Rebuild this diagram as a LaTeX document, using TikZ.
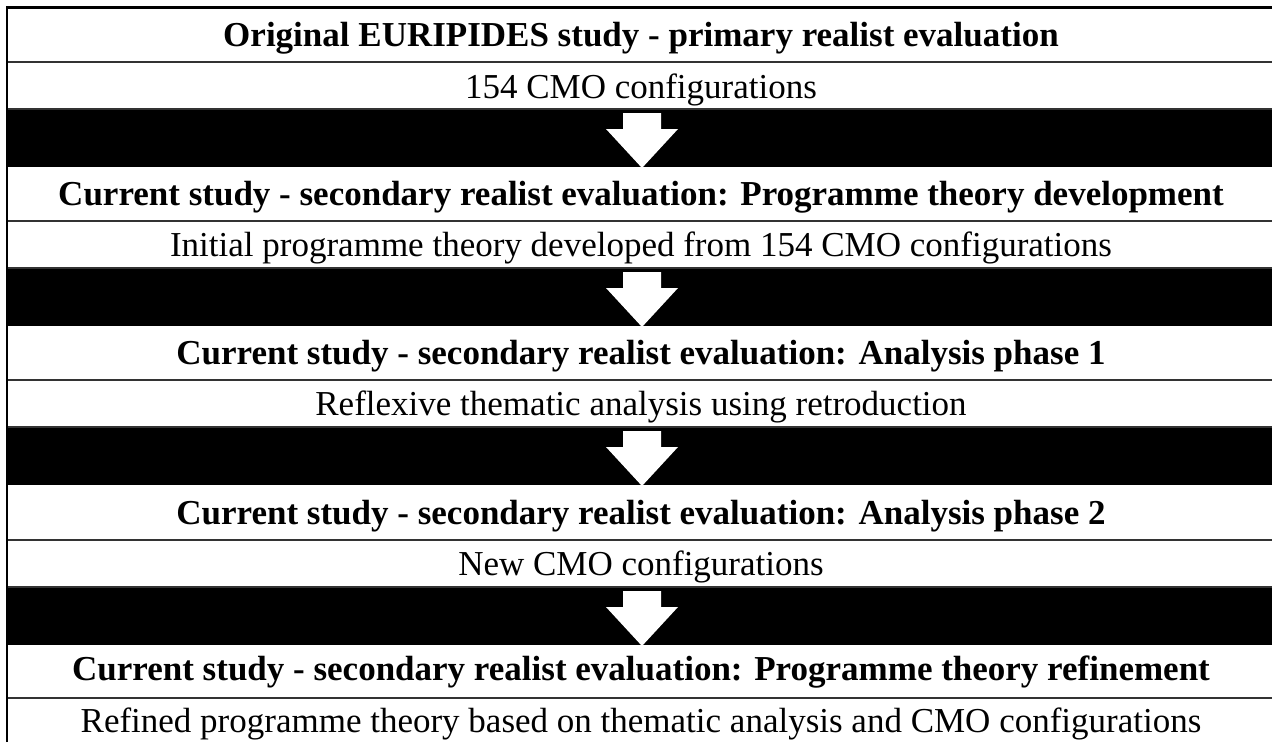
\documentclass[tikz,border=0pt]{standalone}
\usepackage{fontspec}
\setmainfont{Liberation Serif}
\begin{document}
\begin{tikzpicture}[x=1pt,y=-1pt,
    head/.style={font=\fontsize{35}{40}\selectfont\bfseries,inner sep=0pt,anchor=base},
    body/.style={font=\fontsize{35}{40}\selectfont,inner sep=0pt,anchor=base},
    rule/.style={line width=2pt,draw=black!80},
    band/.style={fill=black},
    downarrow/.style={fill=white}]
  \useasboundingbox (0,0) rectangle (1272,742);
  % text rows
  \node[head](orig)   at (641,46)  {Original EURIPIDES study - primary realist evaluation};
  \node[body](cmo)    at (641,98)  {154 CMO configurations};
  \node[head](dev)    at (641,205) {Current study - secondary realist evaluation: Programme theory development};
  \node[body](init)   at (641,256) {Initial programme theory developed from 154 CMO configurations};
  \node[head](phone)  at (641,364) {Current study - secondary realist evaluation: Analysis phase 1};
  \node[body](refl)   at (641,415) {Reflexive thematic analysis using retroduction};
  \node[head](phtwo)  at (641,524) {Current study - secondary realist evaluation: Analysis phase 2};
  \node[body](newcmo) at (641,575) {New CMO configurations};
  \node[head](refine) at (641,680) {Current study - secondary realist evaluation: Programme theory refinement};
  \node[body](final)  at (641,732) {Refined programme theory based on thematic analysis and CMO configurations};
  % rules and black bands with arrows
  \foreach \y in {8,167,326,486,644}{
    \draw[rule] (6,\y+54) -- (1272,\y+54);
  }
  \foreach \y in {8,167,326,486}{
    \draw[rule] (6,\y+101) -- (1272,\y+101);
    \fill[band] (7.5,\y+102) rectangle (1272,\y+159);
    \fill[downarrow] (623,\y+105) -- (661,\y+105) -- (661,\y+121) -- (678,\y+121)
      -- (642,\y+160) -- (606,\y+121) -- (623,\y+121) -- cycle;
  }
  % frame
  \draw[line width=2.7pt] (7,742) -- (7,7.3) -- (1272,7.3);
\end{tikzpicture}
\end{document}
